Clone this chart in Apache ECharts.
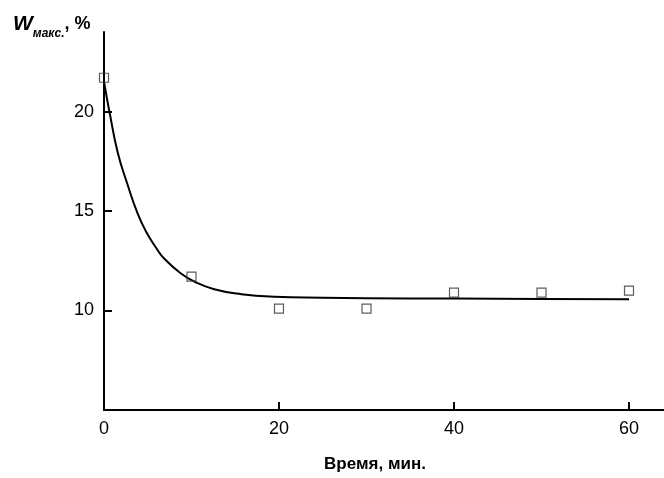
<!DOCTYPE html>
<html>
<head>
<meta charset="utf-8">
<script src="https://cdn.jsdelivr.net/npm/echarts@6/dist/echarts.min.js"></script>
<style>html,body{margin:0;padding:0;background:#fff}#c{width:664px;height:478px}</style>
</head>
<body>
<div id="c"></div>
<script>
// measured points (time, W max %)
const pointX = [0, 10, 20, 30, 40, 50, 60];
const pointY = [21.7, 11.7, 10.1, 10.1, 10.9, 10.9, 11.0];
// fitted curve
const curveX = [0, 0.3, 0.62, 1.56, 2.7, 3.84, 4.8, 5.93, 6.9, 8.8, 10.3, 12.6, 15.7, 19.5, 25, 30, 40, 50, 60];
const curveY = [21.5, 20.75, 20.0, 17.96, 16.32, 14.88, 13.97, 13.17, 12.6, 11.86, 11.46, 11.07, 10.82, 10.69, 10.64, 10.62, 10.6, 10.58, 10.57];
const xTicks = [0, 20, 40, 60];
const yTicks = [10, 15, 20];

const chart = echarts.init(document.getElementById('c'), null, {renderer: 'canvas'});
const font = 'Liberation Sans, Arial, sans-serif';
chart.setOption({
  animation: false,
  backgroundColor: '#fff',
  title: {
    left: 8, top: 9,
    text: '{w|W}{s|макс.}{p|, %}',
    textStyle: {
      rich: {
        w: {fontFamily: font, fontSize: 21, fontWeight: 'bold', fontStyle: 'italic', color: '#000', verticalAlign: 'top', lineHeight: 22},
        s: {fontFamily: font, fontSize: 12, fontWeight: 'bold', fontStyle: 'italic', color: '#000', verticalAlign: 'top', lineHeight: 12, padding: [14, 0, 0, 0]},
        p: {fontFamily: font, fontSize: 18, fontWeight: 'bold', color: '#000', verticalAlign: 'top', lineHeight: 22, padding: [1, 0, 0, 0]}
      }
    }
  },
  grid: {left: 104, right: 0, top: 32, bottom: 64, containLabel: false},
  xAxis: {
    type: 'value', min: 0, max: 64,
    name: 'Время, мин.', nameLocation: 'middle', nameGap: 46,
    nameTextStyle: {fontFamily: font, fontSize: 17, fontWeight: 'bold', color: '#000', padding: [0, 18, 0, 0]},
    axisLine: {show: true, onZero: false, lineStyle: {color: '#000', width: 2}},
    axisTick: {show: true, inside: true, length: 8, customValues: xTicks, lineStyle: {color: '#000', width: 2}},
    axisLabel: {customValues: xTicks, margin: 10, fontFamily: font, fontSize: 18, color: '#000'},
    splitLine: {show: false}
  },
  yAxis: {
    type: 'value', min: 5, max: 24,
    axisLine: {show: true, onZero: false, lineStyle: {color: '#000', width: 2}},
    axisTick: {show: true, inside: true, length: 8, customValues: yTicks, lineStyle: {color: '#000', width: 2}},
    axisLabel: {customValues: yTicks, margin: 10, fontFamily: font, fontSize: 18, color: '#000'},
    splitLine: {show: false}
  },
  series: [
    {
      type: 'line', smooth: 0.5, showSymbol: false,
      data: curveX.map((x, i) => [x, curveY[i]]),
      lineStyle: {color: '#000', width: 2}, z: 2
    },
    {
      type: 'scatter', symbol: 'rect', symbolSize: 9,
      data: pointX.map((x, i) => [x, pointY[i]]),
      itemStyle: {color: 'rgba(255,255,255,0)', borderColor: '#333', borderWidth: 1.2}, z: 3
    }
  ]
});
</script>
</body>
</html>
